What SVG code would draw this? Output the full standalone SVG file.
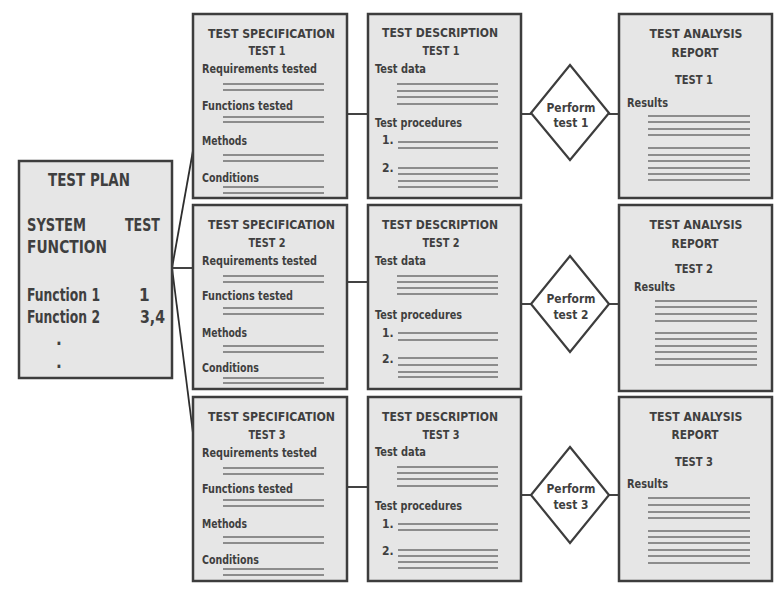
<svg xmlns="http://www.w3.org/2000/svg" width="783" height="606" viewBox="0 0 783 606">
<style>
.box{fill:#e6e6e6;stroke:#3d3d3d;stroke-width:2.5}
.dia{fill:#ffffff;stroke:#3d3d3d;stroke-width:2.2}
.con{stroke:#2e2e2e;stroke-width:1.8;fill:none}
.ln{stroke:#6e6e6e;stroke-width:1.3}
text{font-family:"DejaVu Sans Condensed","DejaVu Sans","Liberation Sans",sans-serif;font-weight:bold;fill:#3f3f3f}
.h{font-size:13px}
.s{font-size:12px}
.p{font-size:17px}
</style>
<rect width="783" height="606" fill="#ffffff"/>

<g id="connectors">
<line class="con" x1="172" y1="268" x2="194" y2="145"/>
<line class="con" x1="172" y1="268" x2="193" y2="268"/>
<line class="con" x1="172" y1="268" x2="194" y2="441"/>
<line class="con" x1="347" y1="114" x2="368" y2="114"/>
<line class="con" x1="521" y1="114" x2="531" y2="114"/>
<line class="con" x1="609" y1="114" x2="619" y2="114"/>
<line class="con" x1="347" y1="282" x2="368" y2="282"/>
<line class="con" x1="521" y1="304" x2="531" y2="304"/>
<line class="con" x1="609" y1="304" x2="619" y2="304"/>
<line class="con" x1="347" y1="487" x2="368" y2="487"/>
<line class="con" x1="521" y1="495" x2="531" y2="495"/>
<line class="con" x1="609" y1="495" x2="619" y2="495"/>
</g>

<g id="test-plan">
<rect class="box" x="19" y="161" width="153" height="217"/>
<text class="p" x="48" y="186" textLength="82" lengthAdjust="spacingAndGlyphs">TEST PLAN</text>
<text class="p" x="27" y="231" textLength="59" lengthAdjust="spacingAndGlyphs">SYSTEM</text>
<text class="p" x="125" y="231" textLength="35" lengthAdjust="spacingAndGlyphs">TEST</text>
<text class="p" x="27" y="253" textLength="80" lengthAdjust="spacingAndGlyphs">FUNCTION</text>
<text class="p" x="27" y="301" textLength="73" lengthAdjust="spacingAndGlyphs">Function 1</text>
<text class="p" x="139" y="301">1</text>
<text class="p" x="27" y="323" textLength="73" lengthAdjust="spacingAndGlyphs">Function 2</text>
<text class="p" x="140" y="323" textLength="25" lengthAdjust="spacingAndGlyphs">3,4</text>
<text class="p" x="56" y="345">.</text>
<text class="p" x="56" y="368">.</text>
</g>

<g id="spec1">
<rect class="box" x="193" y="14" width="154" height="184"/>
<text class="h" x="208" y="38" textLength="127" lengthAdjust="spacingAndGlyphs">TEST SPECIFICATION</text>
<text class="h" x="267" y="55" text-anchor="middle" textLength="37" lengthAdjust="spacingAndGlyphs">TEST 1</text>
<text class="s" x="202" y="73" textLength="115" lengthAdjust="spacingAndGlyphs">Requirements tested</text>
<line class="ln" x1="223" y1="84" x2="324" y2="84"/><line class="ln" x1="223" y1="90" x2="324" y2="90"/>
<text class="s" x="202" y="110" textLength="91" lengthAdjust="spacingAndGlyphs">Functions tested</text>
<line class="ln" x1="223" y1="117" x2="324" y2="117"/><line class="ln" x1="223" y1="122" x2="324" y2="122"/>
<text class="s" x="202" y="145" textLength="45" lengthAdjust="spacingAndGlyphs">Methods</text>
<line class="ln" x1="223" y1="155" x2="324" y2="155"/><line class="ln" x1="223" y1="161" x2="324" y2="161"/>
<text class="s" x="202" y="182" textLength="57" lengthAdjust="spacingAndGlyphs">Conditions</text>
<line class="ln" x1="223" y1="187" x2="324" y2="187"/><line class="ln" x1="223" y1="193" x2="324" y2="193"/>
</g>

<g id="spec2" transform="translate(0,191)">
<rect class="box" x="193" y="14" width="154" height="184"/>
<text class="h" x="208" y="38" textLength="127" lengthAdjust="spacingAndGlyphs">TEST SPECIFICATION</text>
<text class="h" x="267" y="56" text-anchor="middle" textLength="37" lengthAdjust="spacingAndGlyphs">TEST 2</text>
<text class="s" x="202" y="74" textLength="115" lengthAdjust="spacingAndGlyphs">Requirements tested</text>
<line class="ln" x1="223" y1="85" x2="324" y2="85"/><line class="ln" x1="223" y1="91" x2="324" y2="91"/>
<text class="s" x="202" y="109" textLength="91" lengthAdjust="spacingAndGlyphs">Functions tested</text>
<line class="ln" x1="223" y1="117" x2="324" y2="117"/><line class="ln" x1="223" y1="123" x2="324" y2="123"/>
<text class="s" x="202" y="146" textLength="45" lengthAdjust="spacingAndGlyphs">Methods</text>
<line class="ln" x1="223" y1="155" x2="324" y2="155"/><line class="ln" x1="223" y1="161" x2="324" y2="161"/>
<text class="s" x="202" y="181" textLength="57" lengthAdjust="spacingAndGlyphs">Conditions</text>
<line class="ln" x1="223" y1="187" x2="324" y2="187"/><line class="ln" x1="223" y1="192" x2="324" y2="192"/>
</g>

<g id="spec3" transform="translate(0,383)">
<rect class="box" x="193" y="14" width="154" height="184"/>
<text class="h" x="208" y="38" textLength="127" lengthAdjust="spacingAndGlyphs">TEST SPECIFICATION</text>
<text class="h" x="267" y="56" text-anchor="middle" textLength="37" lengthAdjust="spacingAndGlyphs">TEST 3</text>
<text class="s" x="202" y="74" textLength="115" lengthAdjust="spacingAndGlyphs">Requirements tested</text>
<line class="ln" x1="223" y1="85" x2="324" y2="85"/><line class="ln" x1="223" y1="91" x2="324" y2="91"/>
<text class="s" x="202" y="110" textLength="91" lengthAdjust="spacingAndGlyphs">Functions tested</text>
<line class="ln" x1="223" y1="117" x2="324" y2="117"/><line class="ln" x1="223" y1="123" x2="324" y2="123"/>
<text class="s" x="202" y="145" textLength="45" lengthAdjust="spacingAndGlyphs">Methods</text>
<line class="ln" x1="223" y1="154" x2="324" y2="154"/><line class="ln" x1="223" y1="160" x2="324" y2="160"/>
<text class="s" x="202" y="181" textLength="57" lengthAdjust="spacingAndGlyphs">Conditions</text>
<line class="ln" x1="223" y1="186" x2="324" y2="186"/><line class="ln" x1="223" y1="192" x2="324" y2="192"/>
</g>

<g id="desc1">
<rect class="box" x="368" y="14" width="153" height="184"/>
<text class="h" x="382" y="37" textLength="116" lengthAdjust="spacingAndGlyphs">TEST DESCRIPTION</text>
<text class="h" x="441" y="55" text-anchor="middle" textLength="37" lengthAdjust="spacingAndGlyphs">TEST 1</text>
<text class="s" x="375" y="73" textLength="51" lengthAdjust="spacingAndGlyphs">Test data</text>
<line class="ln" x1="397" y1="84" x2="498" y2="84"/><line class="ln" x1="397" y1="91" x2="498" y2="91"/>
<line class="ln" x1="397" y1="97" x2="498" y2="97"/><line class="ln" x1="397" y1="104" x2="498" y2="104"/>
<text class="s" x="375" y="127" textLength="87" lengthAdjust="spacingAndGlyphs">Test procedures</text>
<text class="s" x="382" y="144">1.</text>
<line class="ln" x1="398" y1="142" x2="498" y2="142"/><line class="ln" x1="398" y1="148" x2="498" y2="148"/>
<text class="s" x="382" y="172">2.</text>
<line class="ln" x1="398" y1="168" x2="498" y2="168"/><line class="ln" x1="398" y1="174" x2="498" y2="174"/>
<line class="ln" x1="398" y1="181" x2="498" y2="181"/><line class="ln" x1="398" y1="187" x2="498" y2="187"/>
</g>

<g id="desc2" transform="translate(0,191)">
<rect class="box" x="368" y="14" width="153" height="184"/>
<text class="h" x="382" y="38" textLength="116" lengthAdjust="spacingAndGlyphs">TEST DESCRIPTION</text>
<text class="h" x="441" y="56" text-anchor="middle" textLength="37" lengthAdjust="spacingAndGlyphs">TEST 2</text>
<text class="s" x="375" y="74" textLength="51" lengthAdjust="spacingAndGlyphs">Test data</text>
<line class="ln" x1="397" y1="85" x2="498" y2="85"/><line class="ln" x1="397" y1="91" x2="498" y2="91"/>
<line class="ln" x1="397" y1="97" x2="498" y2="97"/><line class="ln" x1="397" y1="103" x2="498" y2="103"/>
<text class="s" x="375" y="128" textLength="87" lengthAdjust="spacingAndGlyphs">Test procedures</text>
<text class="s" x="382" y="146">1.</text>
<line class="ln" x1="398" y1="142" x2="498" y2="142"/><line class="ln" x1="398" y1="149" x2="498" y2="149"/>
<text class="s" x="382" y="172">2.</text>
<line class="ln" x1="398" y1="167" x2="498" y2="167"/><line class="ln" x1="398" y1="174" x2="498" y2="174"/>
<line class="ln" x1="398" y1="181" x2="498" y2="181"/><line class="ln" x1="398" y1="186" x2="498" y2="186"/>
</g>

<g id="desc3" transform="translate(0,383)">
<rect class="box" x="368" y="14" width="153" height="184"/>
<text class="h" x="382" y="38" textLength="116" lengthAdjust="spacingAndGlyphs">TEST DESCRIPTION</text>
<text class="h" x="441" y="56" text-anchor="middle" textLength="37" lengthAdjust="spacingAndGlyphs">TEST 3</text>
<text class="s" x="375" y="73" textLength="51" lengthAdjust="spacingAndGlyphs">Test data</text>
<line class="ln" x1="397" y1="84" x2="498" y2="84"/><line class="ln" x1="397" y1="90" x2="498" y2="90"/>
<line class="ln" x1="397" y1="96" x2="498" y2="96"/><line class="ln" x1="397" y1="103" x2="498" y2="103"/>
<text class="s" x="375" y="127" textLength="87" lengthAdjust="spacingAndGlyphs">Test procedures</text>
<text class="s" x="382" y="145">1.</text>
<line class="ln" x1="398" y1="141" x2="498" y2="141"/><line class="ln" x1="398" y1="147" x2="498" y2="147"/>
<text class="s" x="382" y="172">2.</text>
<line class="ln" x1="398" y1="167" x2="498" y2="167"/><line class="ln" x1="398" y1="173" x2="498" y2="173"/>
<line class="ln" x1="398" y1="179" x2="498" y2="179"/><line class="ln" x1="398" y1="185" x2="498" y2="185"/>
</g>

<g id="perform1">
<polygon class="dia" points="570,65 609,113 570,160 531,113"/>
<text class="h" x="571" y="112" text-anchor="middle" textLength="49" lengthAdjust="spacingAndGlyphs">Perform</text>
<text class="h" x="571" y="127" text-anchor="middle" textLength="35" lengthAdjust="spacingAndGlyphs">test 1</text>
</g>
<g id="perform2">
<polygon class="dia" points="570,256 609,304 570,352 531,304"/>
<text class="h" x="571" y="303" text-anchor="middle" textLength="49" lengthAdjust="spacingAndGlyphs">Perform</text>
<text class="h" x="571" y="319" text-anchor="middle" textLength="35" lengthAdjust="spacingAndGlyphs">test 2</text>
</g>
<g id="perform3">
<polygon class="dia" points="570,447 609,495 570,543 531,495"/>
<text class="h" x="571" y="493" text-anchor="middle" textLength="49" lengthAdjust="spacingAndGlyphs">Perform</text>
<text class="h" x="571" y="509" text-anchor="middle" textLength="35" lengthAdjust="spacingAndGlyphs">test 3</text>
</g>

<g id="report1">
<rect class="box" x="619" y="14" width="153" height="184"/>
<text class="h" x="696" y="38" text-anchor="middle" textLength="93" lengthAdjust="spacingAndGlyphs">TEST ANALYSIS</text>
<text class="h" x="695" y="57" text-anchor="middle" textLength="47" lengthAdjust="spacingAndGlyphs">REPORT</text>
<text class="h" x="694" y="84" text-anchor="middle" textLength="38" lengthAdjust="spacingAndGlyphs">TEST 1</text>
<text class="s" x="627" y="107" textLength="41" lengthAdjust="spacingAndGlyphs">Results</text>
<line class="ln" x1="648" y1="116" x2="750" y2="116"/><line class="ln" x1="648" y1="122" x2="750" y2="122"/>
<line class="ln" x1="648" y1="129" x2="750" y2="129"/><line class="ln" x1="648" y1="135" x2="750" y2="135"/>
<line class="ln" x1="648" y1="148" x2="750" y2="148"/><line class="ln" x1="648" y1="155" x2="750" y2="155"/>
<line class="ln" x1="648" y1="161" x2="750" y2="161"/><line class="ln" x1="648" y1="168" x2="750" y2="168"/>
<line class="ln" x1="648" y1="174" x2="750" y2="174"/><line class="ln" x1="648" y1="180" x2="750" y2="180"/>
</g>

<g id="report2">
<rect class="box" x="619" y="205" width="153" height="186"/>
<text class="h" x="696" y="229" text-anchor="middle" textLength="93" lengthAdjust="spacingAndGlyphs">TEST ANALYSIS</text>
<text class="h" x="695" y="248" text-anchor="middle" textLength="47" lengthAdjust="spacingAndGlyphs">REPORT</text>
<text class="h" x="694" y="273" text-anchor="middle" textLength="38" lengthAdjust="spacingAndGlyphs">TEST 2</text>
<text class="s" x="634" y="291" textLength="41" lengthAdjust="spacingAndGlyphs">Results</text>
<line class="ln" x1="655" y1="301" x2="757" y2="301"/><line class="ln" x1="655" y1="307" x2="757" y2="307"/>
<line class="ln" x1="655" y1="314" x2="757" y2="314"/><line class="ln" x1="655" y1="321" x2="757" y2="321"/>
<line class="ln" x1="655" y1="333" x2="757" y2="333"/><line class="ln" x1="655" y1="339" x2="757" y2="339"/>
<line class="ln" x1="655" y1="346" x2="757" y2="346"/><line class="ln" x1="655" y1="352" x2="757" y2="352"/>
<line class="ln" x1="655" y1="359" x2="757" y2="359"/><line class="ln" x1="655" y1="365" x2="757" y2="365"/>
</g>

<g id="report3">
<rect class="box" x="619" y="397" width="153" height="184"/>
<text class="h" x="696" y="421" text-anchor="middle" textLength="93" lengthAdjust="spacingAndGlyphs">TEST ANALYSIS</text>
<text class="h" x="695" y="439" text-anchor="middle" textLength="47" lengthAdjust="spacingAndGlyphs">REPORT</text>
<text class="h" x="694" y="466" text-anchor="middle" textLength="38" lengthAdjust="spacingAndGlyphs">TEST 3</text>
<text class="s" x="627" y="488" textLength="41" lengthAdjust="spacingAndGlyphs">Results</text>
<line class="ln" x1="648" y1="498" x2="750" y2="498"/><line class="ln" x1="648" y1="505" x2="750" y2="505"/>
<line class="ln" x1="648" y1="512" x2="750" y2="512"/><line class="ln" x1="648" y1="518" x2="750" y2="518"/>
<line class="ln" x1="648" y1="531" x2="750" y2="531"/><line class="ln" x1="648" y1="537" x2="750" y2="537"/>
<line class="ln" x1="648" y1="543" x2="750" y2="543"/><line class="ln" x1="648" y1="550" x2="750" y2="550"/>
<line class="ln" x1="648" y1="556" x2="750" y2="556"/><line class="ln" x1="648" y1="563" x2="750" y2="563"/>
</g>
</svg>
